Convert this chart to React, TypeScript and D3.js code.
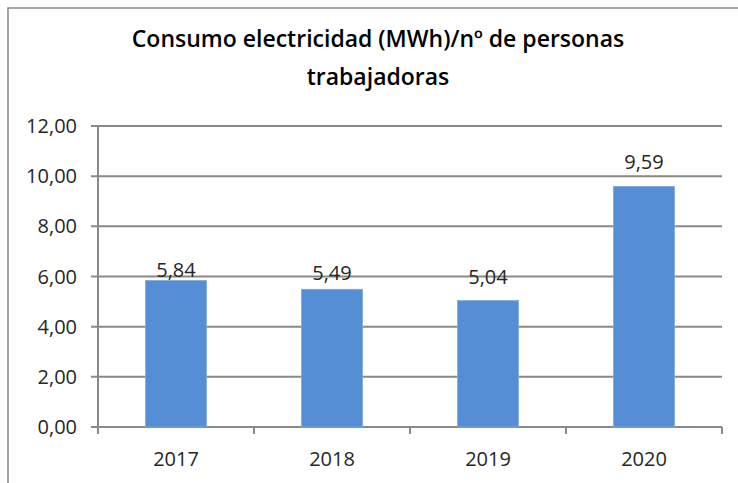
import React from "react";
import * as d3 from "d3";

const categories = ["2017", "2018", "2019", "2020"];
const values = [5.84, 5.49, 5.04, 9.59];
const yTicks = [0, 2, 4, 6, 8, 10, 12];
const titleLines = ["Consumo electricidad (MWh)/nº de personas", "trabajadoras"];
// label lift above bar top (px), as placed in the original
const labelLift = [4, 9, 17, 17];

const W = 738;
const H = 483;
const left = 98;
const right = 722;
const top = 126;
const bottom = 427;
const FONT = "'Open Sans', 'Noto Sans', sans-serif";
const GRID = "#898989";
const TEXT = "#262626";
const BAR = "#558ED5";

export default function App() {
  const x = d3.scaleBand<string>().domain(categories).range([left, right]).paddingInner(0.61).paddingOuter(0.305);
  const xb = d3.scaleBand<string>().domain(categories).range([left, right]);
  const y = d3.scaleLinear().domain([0, 12]).range([bottom, top]);
  const fmt = (v: number) => v.toFixed(2).replace(".", ",");

  return (
    <svg width={W} height={H} style={{ position: "absolute", left: 0, top: 0, background: "#fff" }}>
      <rect x={0} y={0} width={W} height={H} fill="#fff" />
      <rect x={8} y={8} width={W + 20} height={H + 20} fill="none" stroke={GRID} strokeWidth={1.5} />
      {titleLines.map((t, i) => (
        <text key={i} x={378} y={47 + i * 38} textAnchor="middle" fontFamily={FONT} fontWeight={600} fontSize={23} fill="#000">
          {t}
        </text>
      ))}
      {yTicks.map((t) => (
        <g key={t}>
          <line x1={left - 7} x2={right} y1={y(t)} y2={y(t)} stroke={GRID} strokeWidth={2} />
          <text x={77} y={y(t) + 7} textAnchor="end" fontFamily={FONT} fontSize={20} fill={TEXT}>
            {fmt(t)}
          </text>
        </g>
      ))}
      <line x1={left} x2={left} y1={top} y2={bottom + 7} stroke={GRID} strokeWidth={2} />
      {categories.map((c) => (
        <line key={"t" + c} x1={(xb(c) as number) + xb.bandwidth()} x2={(xb(c) as number) + xb.bandwidth()} y1={bottom} y2={bottom + 7} stroke={GRID} strokeWidth={2} />
      ))}
      {categories.map((c, i) => (
        <g key={c}>
          <rect x={x(c)} y={y(values[i])} width={x.bandwidth()} height={bottom - y(values[i])} fill={BAR} stroke="#7fa8e0" strokeWidth={0.8} />
          <text x={(x(c) as number) + x.bandwidth() / 2} y={y(values[i]) - labelLift[i]} textAnchor="middle" fontFamily={FONT} fontSize={20} fill={TEXT}>
            {fmt(values[i])}
          </text>
          <text x={(xb(c) as number) + xb.bandwidth() / 2} y={466} textAnchor="middle" fontFamily={FONT} fontSize={20} fill={TEXT}>
            {c}
          </text>
        </g>
      ))}
    </svg>
  );
}
